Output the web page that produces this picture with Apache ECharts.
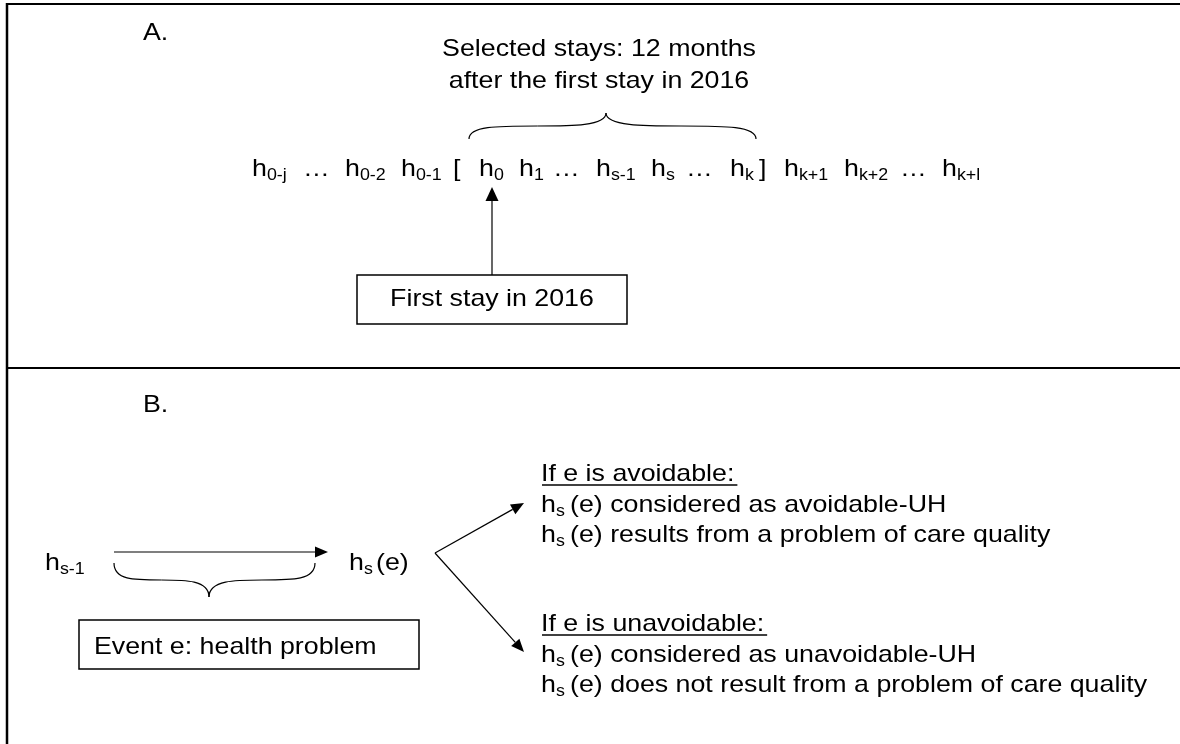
<!DOCTYPE html>
<html>
<head>
<meta charset="utf-8">
<script src="https://cdn.jsdelivr.net/npm/echarts@6.0.0/dist/echarts.min.js"></script>
<style>
html, body { margin: 0; padding: 0; background: #fff; }
#main { width: 1180px; height: 744px; }
</style>
</head>
<body>
<div id="main"></div>
<script>
var myChart = echarts.init(document.getElementById('main'));

// texts of the diagram
var titleA = 'A.';
var titleB = 'B.';
var selectedLines = ['Selected stays: 12 months', 'after the first stay in 2016'];
var seqBase = ['h', '…', 'h', 'h', '[', 'h', 'h', '…', 'h', 'h', '…', 'h', ']', 'h', 'h', '…', 'h'];
var seqSub = ['0-j', '', '0-2', '0-1', '', '0', '1', '', 's-1', 's', '', 'k', '', 'k+1', 'k+2', '', 'k+l'];
var firstStayLabel = 'First stay in 2016';
var eventLabel = 'Event e: health problem';
var avoidHead = 'If e is avoidable:';
var avoidLines = ['(e) considered as avoidable-UH', '(e) results from a problem of care quality'];
var unavoidHead = 'If e is unavoidable:';
var unavoidLines = ['(e) considered as unavoidable-UH', '(e) does not result from a problem of care quality'];

// layout
var seqX = [252, 303, 345, 401, 453, 479, 519, 553, 596, 651, 686, 730, 759, 784, 844, 900, 942];
var FONT = '"Liberation Sans", Arial, sans-serif';
var SX = 1.115;   // the figure is a bit stretched horizontally
var INK = '#000';

var mctx = document.createElement('canvas').getContext('2d');
function textWidth(s, size) {
    mctx.font = size + 'px ' + FONT;
    return mctx.measureText(s).width * SX;
}
// y is the text baseline
function txt(s, x, y, size, align) {
    return {
        type: 'text', x: x, y: y - 0.31 * size, scaleX: SX,
        style: { text: s, fontSize: size, fontFamily: FONT, fill: INK, align: align || 'left', verticalAlign: 'middle' }
    };
}
function hSub(base, sub, x, y) {
    var out = [txt(base, x, y, 24)];
    if (sub) out.push(txt(sub, x + textWidth(base, 24), y + 4, 16));
    return out;
}
function line(x1, y1, x2, y2, w) {
    return { type: 'line', shape: { x1: x1, y1: y1, x2: x2, y2: y2 }, style: { stroke: INK, lineWidth: w || 1.2 } };
}
function arrow(x1, y1, x2, y2, len, wid) {
    var dx = x2 - x1, dy = y2 - y1, d = Math.sqrt(dx * dx + dy * dy);
    var ux = dx / d, uy = dy / d;
    var bx = x2 - ux * len, by = y2 - uy * len;
    return [
        line(x1, y1, bx, by),
        { type: 'polygon', shape: { points: [[x2, y2], [bx - uy * wid / 2, by + ux * wid / 2], [bx + uy * wid / 2, by - ux * wid / 2]] }, style: { fill: INK } }
    ];
}
function curve(a, b, c, d) {
    return {
        type: 'bezierCurve',
        shape: { x1: a[0], y1: a[1], cpx1: b[0], cpy1: b[1], cpx2: c[0], cpy2: c[1], x2: d[0], y2: d[1] },
        style: { fill: null, stroke: INK, lineWidth: 1.2 }
    };
}
function brace(x1, x2, yEnd, yTip, xTip) {
    var ym = (yEnd + yTip) / 2;
    var l = xTip - x1, r = x2 - xTip;
    return [
        curve([x1, yEnd], [x1, ym], [x1 + l * 0.2, ym], [x1 + l * 0.5, ym]),
        curve([x1 + l * 0.5, ym], [xTip - l * 0.25, ym], [xTip, ym], [xTip, yTip]),
        curve([xTip, yTip], [xTip, ym], [xTip + r * 0.25, ym], [xTip + r * 0.5, ym]),
        curve([xTip + r * 0.5, ym], [x2 - r * 0.2, ym], [x2, ym], [x2, yEnd])
    ];
}
function box(x, y, w, h) {
    return { type: 'rect', shape: { x: x, y: y, width: w, height: h }, style: { fill: null, stroke: INK, lineWidth: 1.5 } };
}

var els = [];
// frame
els.push(line(7, 4, 1180, 4, 2));
els.push(line(7, 3, 7, 744, 2.5));
els.push(line(7, 368, 1180, 368, 2));

// panel A
els.push(txt(titleA, 143, 41, 24));
els.push(txt(selectedLines[0], 599, 57, 24, 'center'));
els.push(txt(selectedLines[1], 599, 89, 24, 'center'));
els = els.concat(brace(469, 756, 139, 113, 606));
seqBase.forEach(function (b, i) {
    els = els.concat(hSub(b, seqSub[i], seqX[i], 177));
});
els = els.concat(arrow(492, 275, 492, 187, 14, 13));
els.push(box(357, 275, 270, 49));
els.push(txt(firstStayLabel, 492, 307, 24, 'center'));

// panel B
els.push(txt(titleB, 143, 413, 24));
els = els.concat(hSub('h', 's-1', 45, 571));
els = els.concat(arrow(114, 552, 328, 552, 13, 11));
els = els.concat(hSub('h', 's', 349, 571));
els.push(txt('(e)', 376, 571, 24));
els = els.concat(brace(114, 315, 563, 597, 209));
els.push(box(79, 620, 340, 49));
els.push(txt(eventLabel, 94, 655, 24));

els = els.concat(arrow(435, 553, 524, 503, 13, 11));
els = els.concat(arrow(435, 553, 524, 652, 13, 11));

function branch(head, lines, y0) {
    els.push(txt(head, 541, y0, 24));
    els.push(line(542, y0 + 3, 542 + textWidth(head, 24) + 2, y0 + 3, 1.5));
    lines.forEach(function (s, i) {
        var y = y0 + 31 + i * 30;
        els = els.concat(hSub('h', 's', 541, y));
        els.push(txt(s, 570, y, 24));
    });
}
branch(avoidHead, avoidLines, 482);
branch(unavoidHead, unavoidLines, 632);

var option = {
    animation: false,
    graphic: { elements: els }
};
myChart.setOption(option);
</script>
</body>
</html>
